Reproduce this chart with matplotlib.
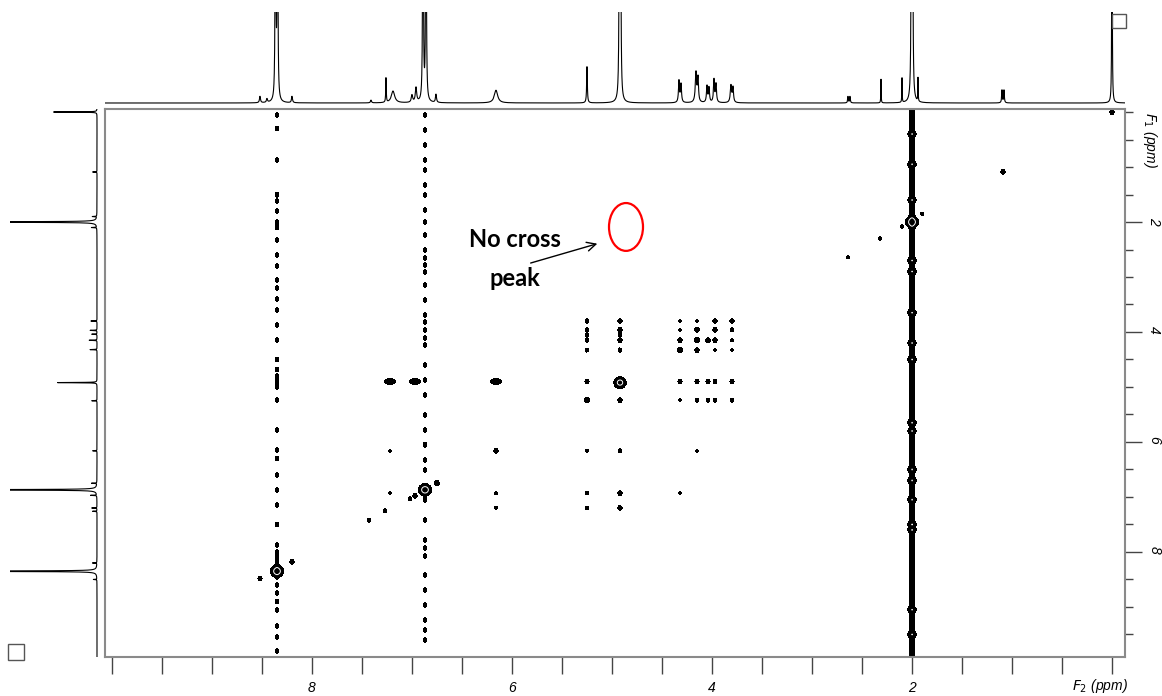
import numpy as np
import matplotlib.pyplot as plt
from matplotlib.patches import Ellipse, Rectangle

plt.rcParams["font.family"] = ["Liberation Sans", "DejaVu Sans"]

W, H = 1162, 696

# ---- 1D projection along F2 (top trace): ppm, height, half width ----
top_ppm = [8.52, 8.45, 8.365, 8.345, 8.20, 7.41, 7.26, 7.19, 7.00, 6.96,
           6.89, 6.86, 6.76, 6.16, 5.25, 4.925, 4.915, 4.33, 4.31, 4.16,
           4.14, 4.05, 4.03, 3.98, 3.96, 3.81, 3.79, 2.64, 2.62, 2.31,
           2.10, 2.005, 1.995, 1.94, 1.10, 1.08, 0.0]
top_h = [0.07, 0.04, 5.0, 5.0, 0.07, 0.03, 0.27, 0.13, 0.08, 0.16,
         5.0, 5.0, 0.09, 0.14, 0.40, 5.0, 5.0, 0.24, 0.20, 0.33,
         0.26, 0.18, 0.16, 0.25, 0.20, 0.19, 0.16, 0.07, 0.07, 0.26,
         0.27, 5.0, 5.0, 0.26, 0.14, 0.14, 5.0]
top_w = [0.006, 0.006, 0.003, 0.003, 0.006, 0.006, 0.003, 0.02, 0.008, 0.008,
         0.003, 0.003, 0.006, 0.02, 0.004, 0.003, 0.003, 0.006, 0.006, 0.008,
         0.006, 0.006, 0.006, 0.006, 0.006, 0.008, 0.006, 0.004, 0.004, 0.002,
         0.002, 0.003, 0.003, 0.002, 0.004, 0.004, 0.002]

# ---- 1D projection along F1 (left trace) ----
left_ppm = [0.0, 1.09, 1.90, 2.0, 2.10, 3.80, 3.97, 4.04, 4.15, 4.32,
            4.92, 5.25, 6.16, 6.75, 6.87, 6.97, 7.20, 7.26, 8.20, 8.35, 8.50]
left_h = [0.50, 0.05, 0.05, 5.0, 0.06, 0.07, 0.08, 0.06, 0.09, 0.08,
          0.46, 0.06, 0.05, 0.06, 5.0, 0.07, 0.06, 0.05, 0.05, 5.0, 0.04]

# ---- 2D cross peaks: grid of F2 columns x F1 rows ----
grid_f2 = [7.22, 6.97, 6.16, 5.25, 4.92, 4.32, 4.15, 4.04, 3.97, 3.80]
grid_f1 = [3.80, 3.96, 4.05, 4.15, 4.33, 4.90, 5.24, 6.16, 6.93, 7.20]
grid_amp = [
    [0, 0, 0, 1.2, 1.5, 0.6, 0.6, 0, 1.5, 1.5],
    [0, 0, 0, 1.2, 1.5, 0.6, 1.8, 0, 1.5, 1.2],
    [0, 0, 0, 0.9, 1.2, 0, 0, 0, 0, 0],
    [0, 0, 0, 1.2, 1.5, 1.5, 2.5, 1.8, 1.5, 0.8],
    [0, 0, 0, 0.9, 1.2, 2.5, 1.5, 0, 0.6, 0.6],
    [2.5, 2.5, 2.5, 1.5, 0, 1.5, 1.5, 1.5, 1.2, 1.5],
    [0, 0, 0, 1.5, 1.5, 0.6, 1.0, 1.2, 1.2, 1.0],
    [0.6, 0, 0.8, 0.7, 1.2, 0, 0.6, 0, 0, 0],
    [0.6, 0, 0.7, 0.8, 1.5, 0.6, 0, 0, 0, 0],
    [0, 0, 0.7, 0.9, 1.5, 0, 0, 0, 0, 0],
]

# diagonal / near diagonal peaks
diag_f2 = [0.0, 1.09, 1.90, 2.10, 2.32, 2.64, 5.25, 6.16, 6.75, 6.97, 7.02, 7.27, 7.43, 8.20, 8.52]
diag_f1 = [0.0, 1.09, 1.85, 2.08, 2.30, 2.64, 5.24, 6.16, 6.75, 6.98, 7.03, 7.25, 7.42, 8.18, 8.48]
diag_amp = [1.6, 1.6, 0.8, 0.8, 0.8, 0.8, 1.2, 0.8, 2.2, 1.5, 1.0, 1.0, 1.0, 1.6, 1.4]

big_ppm = [2.0, 4.92, 6.87, 8.35]
big_amp = [8, 6, 8, 8]

# t1-noise streaks: F1 positions of the blobs along each streak
streak_835 = [0.05, 0.3, 0.87, 1.5, 1.62, 1.8, 2.0, 2.1, 2.33, 2.6, 2.8, 3.05,
              3.2, 3.4, 3.6, 3.87, 4.15, 4.5, 4.68, 4.8, 4.9, 5.0, 5.24, 5.78,
              6.15, 6.3, 6.6, 6.87, 7.15, 7.5, 7.87, 8.0, 8.1, 8.2, 8.3, 8.45,
              8.6, 8.75, 8.9, 9.05, 9.35, 9.55, 9.8]
streak_687 = [0.05, 0.33, 0.6, 0.87, 1.05, 1.33, 1.51, 1.78, 2.0, 2.24, 2.51,
              2.65, 2.78, 2.91, 3.15, 3.42, 3.69, 3.82, 3.96, 4.11, 4.24, 4.6,
              4.87, 5.15, 5.51, 5.78, 6.05, 6.33, 6.51, 7.05, 7.42, 7.78, 7.93,
              8.07, 8.42, 8.69, 8.96, 9.24, 9.42, 9.6]
streak_200 = [0.4, 0.95, 1.6, 2.7, 2.9, 3.65, 4.2, 4.5, 5.65, 5.8, 6.5, 6.7,
              7.05, 7.5, 7.6, 9.05, 9.5]

F2_LIM = (10.07, -0.13)
F1_LIM = (9.91, -0.055)


def fig_rect(x0, y0, x1, y1):
    return [x0 / W, 1 - y1 / H, (x1 - x0) / W, (y1 - y0) / H]


def lorentz(x, centers, heights, widths):
    out = np.zeros_like(x)
    for c, h, w in zip(centers, heights, widths):
        out += h / (1 + ((x - c) / w) ** 2)
    return out


fig = plt.figure(figsize=(W / 100, H / 100), dpi=100)

# ---- main 2D panel ----
ax = fig.add_axes(fig_rect(105, 109, 1125, 657))

# collect every peak (f2, f1, amp, sx, sy)
pk_f2, pk_f1, pk_a, pk_sx, pk_sy = [], [], [], [], []
for i, f1 in enumerate(grid_f1):
    for j, f2 in enumerate(grid_f2):
        if grid_amp[i][j] > 0:
            pk_f2.append(f2); pk_f1.append(f1); pk_a.append(grid_amp[i][j])
            # aromatic peaks on the 4.9 row are stretched along F2
            pk_sx.append(0.03 if (f1 == 4.90 and f2 > 6) else 0.012)
            pk_sy.append(0.025)
for f2, f1, a in zip(diag_f2, diag_f1, diag_amp):
    pk_f2.append(f2); pk_f1.append(f1); pk_a.append(a)
    pk_sx.append(0.012); pk_sy.append(0.025)
for p, a in zip(big_ppm, big_amp):
    pk_f2.append(p); pk_f1.append(p); pk_a.append(a)
    pk_sx.append(0.026); pk_sy.append(0.045)
for f1 in streak_835:
    pk_f2.append(8.35); pk_f1.append(f1); pk_a.append(1.0)
    pk_sx.append(0.011); pk_sy.append(0.03)
for f1 in streak_687:
    pk_f2.append(6.87); pk_f1.append(f1); pk_a.append(1.0)
    pk_sx.append(0.011); pk_sy.append(0.03)
for f1 in streak_200:
    pk_f2.append(2.0); pk_f1.append(f1); pk_a.append(2.0)
    pk_sx.append(0.022); pk_sy.append(0.03)

f2 = np.linspace(-0.13, 10.07, 1400)
f1 = np.linspace(-0.055, 9.91, 800)
pk_f2 = np.array(pk_f2); pk_f1 = np.array(pk_f1)
pk_a = np.array(pk_a); pk_sx = np.array(pk_sx); pk_sy = np.array(pk_sy)
gx = np.exp(-0.5 * ((f2[None, :] - pk_f2[:, None]) / pk_sx[:, None]) ** 2)
gy = np.exp(-0.5 * ((f1[None, :] - pk_f1[:, None]) / pk_sy[:, None]) ** 2)
Z = (gy * pk_a[:, None]).T @ gx
# solvent ridge at 2.0 ppm running through the whole F1 range
Z += 1.6 * np.exp(-0.5 * ((f2 - 2.0) / 0.014) ** 2)[None, :]

ax.contourf(f2, f1, Z, levels=[0.35, 1e6], colors="k")
ax.contour(f2, f1, Z, levels=[3.5], colors="w", linewidths=0.7)
ax.set_xlim(*F2_LIM)
ax.set_ylim(*F1_LIM)

for s in ax.spines.values():
    s.set_color("#8a8a8a")
    s.set_linewidth(1.5)

xt = np.arange(0, 10.01, 0.5)
ax.set_xticks(xt)
ax.set_xticklabels([str(int(t)) if t in (2, 4, 6, 8) else "" for t in xt])
ax.tick_params(axis="x", direction="out", length=12, width=1, color="#444444",
               labelsize=10, pad=5)
ax.yaxis.tick_right()
ax.set_yticks([2, 4, 6, 8])
ax.set_yticks(np.arange(0, 9.6, 0.5), minor=True)
ax.tick_params(axis="y", which="major", direction="out", length=12, width=1,
               color="#444444", labelsize=10, pad=4, labelrotation=-90)
ax.tick_params(axis="y", which="minor", direction="out", length=6, width=1,
               color="#444444")
for lab in ax.get_xticklabels() + ax.get_yticklabels():
    lab.set_style("italic")

fig.text(1100 / W, 1 - 686 / H, r"$F_2$ (ppm)", ha="center", va="center",
         fontsize=10, style="italic")
fig.text(1150 / W, 1 - 140 / H, r"$F_1$ (ppm)", ha="center", va="center",
         fontsize=10, style="italic", rotation=-90)

# annotation
ax.add_patch(Ellipse((4.86, 2.09), 0.34, 0.87, fill=False, ec="red", lw=1.6))
ax.annotate("", xy=(5.12, 2.38), xytext=(5.84, 2.76),
            arrowprops=dict(arrowstyle="->", lw=1.0, color="k", mutation_scale=16))
ax.text(5.97, 2.67, "No cross\npeak", ha="center", va="center", fontsize=17,
        fontweight="bold", family=["Lato", "DejaVu Sans"], linespacing=1.85)

# ---- top trace ----
axt = fig.add_axes(fig_rect(105, 12, 1125, 106))
xs = np.linspace(-0.13, 10.07, 20000)
axt.plot(xs, lorentz(xs, top_ppm, top_h, top_w), color="k", lw=0.8)
axt.set_xlim(*F2_LIM)
axt.set_ylim(-0.033, 1.0)
axt.axis("off")

# ---- left trace ----
axl = fig.add_axes(fig_rect(10, 109, 98, 657))
ys = np.linspace(-0.055, 9.91, 12000)
axl.plot(lorentz(ys, left_ppm, left_h, [0.003] * len(left_ppm)), ys, color="k", lw=0.8)
axl.set_xlim(1.0, -0.0115)
axl.set_ylim(*F1_LIM)
axl.axis("off")

# small boxes in the corners
for x0, y0, w, h in [(1112, 14, 14, 14), (8, 644, 16, 16)]:
    fig.add_artist(Rectangle((x0 / W, 1 - (y0 + h) / H), w / W, h / H,
                             transform=fig.transFigure, fill=False,
                             ec="#555555", lw=1))

fig.savefig("out.png", dpi=100)
